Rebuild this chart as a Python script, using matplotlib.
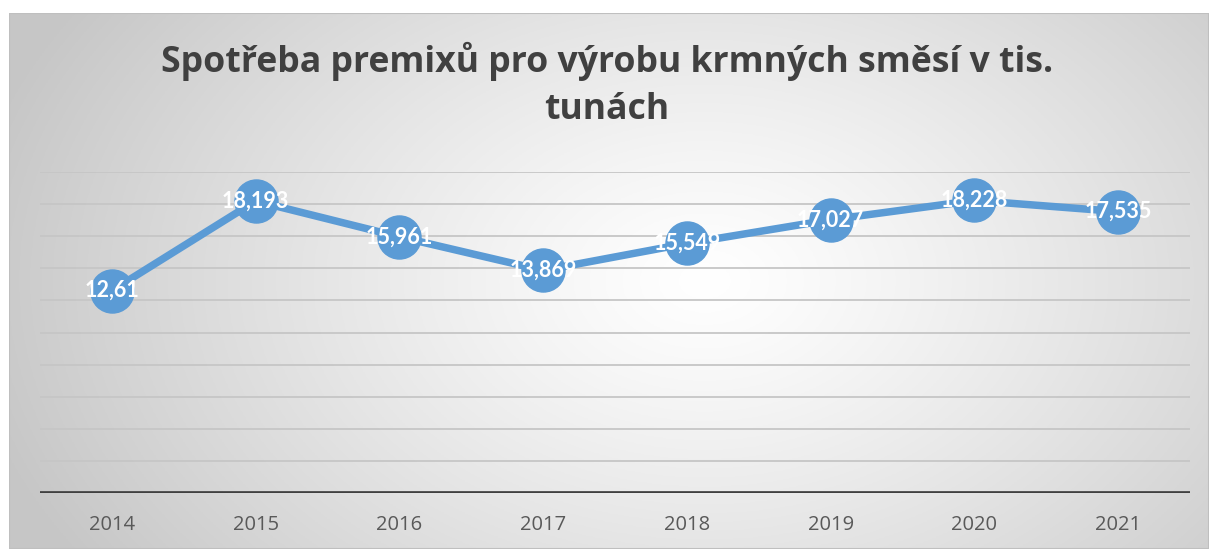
import numpy as np
import matplotlib
matplotlib.use("Agg")
import matplotlib.pyplot as plt

years = ["2014", "2015", "2016", "2017", "2018", "2019", "2020", "2021"]
values = [12.61, 18.193, 15.961, 13.869, 15.549, 17.027, 18.228, 17.535]
labels = ["12,61", "18,193", "15,961", "13,869", "15,549", "17,027", "18,228", "17,535"]
title_text = "Spotřeba premixů pro výrobu krmných směsí v tis.\ntunách"

W, H = 1209, 549
fig = plt.figure(figsize=(W / 100, H / 100), dpi=100)
fig.patch.set_facecolor("white")

# background radial gradient
bx0, by0, bx1, by1 = 9, 0, 1209, 536  # pixel extents (bottom-up y)
bg = fig.add_axes([bx0 / W, by0 / H, (bx1 - bx0) / W, (by1 - by0) / H])
nx, ny = 400, 200
xx, yy = np.meshgrid(np.linspace(0, 1, nx), np.linspace(0, 1, ny))
cx, cy = 0.58, 0.5
d = np.sqrt(((xx - cx) / 0.62) ** 2 + ((yy - cy) / 0.95) ** 2)
d = np.clip(d, 0, 1)
val = 1.0 - (1.0 - 0.78) * d ** 1.2
img = np.dstack([val, val, val])
bg.imshow(img, aspect="auto", extent=[0, 1, 0, 1], origin="lower")
bg.set_axis_off()
bg.add_patch(plt.Rectangle((0, 0), 1, 1, fill=False, edgecolor="#bfbfbf", lw=1.5, transform=bg.transAxes))

ax = fig.add_axes([40 / W, 1 - 493 / H, 1150 / W, (493 - 172) / H])
ax.set_facecolor("none")
x = np.arange(len(years))
ax.set_xlim(-0.5, len(years) - 0.5)
ax.set_ylim(0, 20)
for gv in np.arange(2, 21, 2):
    ax.axhline(gv, color="#c6c6c6", lw=1.3, zorder=1)
ax.axhline(0, color="#404040", lw=3.4, zorder=2)

ax.plot(x, values, color="#5B9BD5", lw=5.4, marker="o", markersize=31,
        markerfacecolor="#5B9BD5", markeredgecolor="#5B9BD5", zorder=3, solid_capstyle="round")
for xi, v, lab in zip(x, values, labels):
    ax.text(xi, v, lab, ha="center", va="center", color="white", fontsize=15.5,
            fontweight="bold", family=["Lato", "DejaVu Sans"], zorder=4)

for s in ax.spines.values():
    s.set_visible(False)
ax.set_yticks([])
ax.set_xticks(x)
ax.set_xticklabels(years, fontsize=14.5, color="#595959", family=["Open Sans", "DejaVu Sans"])
ax.tick_params(axis="x", length=0, pad=16)

fig.text(0.502, 1 - 85 / H, title_text, ha="center", va="center", fontsize=25.7,
         fontweight="bold", color="#404040", family=["Open Sans", "DejaVu Sans"],
         linespacing=1.42)

fig.savefig("out.png", dpi=100, facecolor="white")
